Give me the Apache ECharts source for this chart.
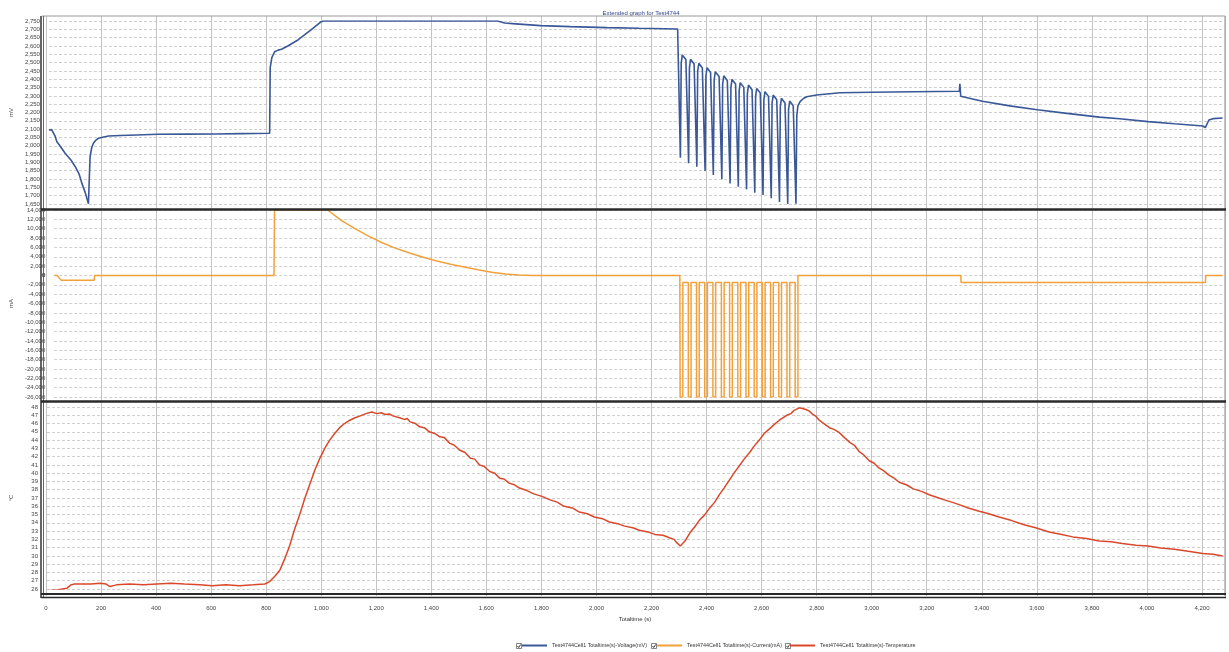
<!DOCTYPE html>
<html>
<head>
<meta charset="utf-8">
<script src="https://cdn.jsdelivr.net/npm/echarts@6/dist/echarts.min.js"></script>
<style>html,body{margin:0;padding:0;background:#fff;}#c{width:1229px;height:652px;}</style>
</head>
<body>
<div id="c"></div>
<script>
const titleText = 'Extended graph for Test4744';
const seriesNames = ['Test4744Cell1 Totaltime(s)-Voltage(mV)', 'Test4744Cell1 Totaltime(s)-Current(mA)', 'Test4744Cell1 Totaltime(s)-Temperature'];
const xName = 'Totaltime (s)';
const yNames = ['mV', 'mA', '°C'];
const xRange = [0, 4280, 200];
const voltRange = [1650, 2750, 50];
const currRange = [-26000, 14000, 2000];
const tempRange = [26, 48, 1];
const currZeroTick = 0;

const voltage = [
[0,2095],[10,2097],[17,2093],[22,2060],[29,2024],[40,2000],[59,1955],[80,1915],[96,1874],[110,1830],[120,1774],[132,1720],[144,1652],
[147,1800],[150,1934],[156,1990],[162,2015],[170,2032],[180,2045],[200,2053],[217,2059],[260,2062],[320,2065],[398,2069],[500,2070],[604,2071],[700,2073],[804,2075],
[806,2470],[812,2530],[822,2565],[835,2575],[847,2580],[870,2600],[907,2636],[950,2690],[992,2746],[1000,2750],[1634,2750],[1660,2738],[1700,2733],[1791,2722],[1900,2716],[2033,2710],[2150,2706],
[2290,2702],[2300,1928],[2303,2496],[2307,2546],[2314,2534],
[2320,2518],[2330,1895],[2333,2470],[2337,2520],[2344,2508],
[2350,2492],[2360,1874],[2363,2446],[2367,2496],[2374,2484],
[2380,2468],[2390,1848],[2393,2419],[2397,2469],[2404,2457],
[2410,2441],[2420,1824],[2423,2395],[2427,2445],[2434,2433],
[2441,2417],[2451,1799],[2454,2371],[2458,2421],[2465,2409],
[2471,2393],[2481,1774],[2484,2349],[2488,2399],[2495,2387],
[2501,2371],[2511,1754],[2514,2329],[2518,2379],[2525,2367],
[2531,2351],[2541,1738],[2544,2315],[2548,2365],[2555,2353],
[2561,2337],[2571,1718],[2574,2295],[2578,2345],[2585,2333],
[2591,2317],[2601,1704],[2604,2275],[2608,2325],[2615,2313],
[2621,2297],[2631,1684],[2634,2255],[2638,2305],[2645,2293],
[2651,2277],[2661,1662],[2664,2235],[2668,2285],[2675,2273],
[2681,2257],[2691,1650],[2694,2219],[2698,2269],[2705,2257],
[2711,2241],[2721,1652],
[2724,2180],[2728,2240],[2736,2265],[2748,2284],[2760,2295],[2796,2305],[2881,2319],[3000,2322],[3150,2325],[3316,2328],[3318,2372],[3321,2298],
[3400,2268],[3500,2240],[3600,2217],[3700,2196],[3826,2172],[3900,2162],[4004,2145],[4100,2132],[4203,2119],[4212,2109],[4218,2110],[4225,2155],[4240,2163],[4275,2167]
];

const current = [
[0,0],[10,0],[25,-1000],[146,-1000],[148,0],[804,0],[806,14000],[1000,14000],
[1050,11800],[1100,10000],[1150,8400],[1200,7000],[1250,5800],[1300,4800],[1350,3900],[1400,3100],[1450,2400],[1500,1800],[1550,1200],[1600,700],[1650,300],[1700,100],[1750,0],
[2289,0],
[2290,-26000],[2300,-26000],[2300,-1500],[2320,-1500],
[2320,-26000],[2330,-26000],[2330,-1500],[2350,-1500],
[2350,-26000],[2360,-26000],[2360,-1500],[2380,-1500],
[2380,-26000],[2390,-26000],[2390,-1500],[2410,-1500],
[2410,-26000],[2420,-26000],[2420,-1500],[2441,-1500],
[2441,-26000],[2451,-26000],[2451,-1500],[2471,-1500],
[2471,-26000],[2481,-26000],[2481,-1500],[2501,-1500],
[2501,-26000],[2511,-26000],[2511,-1500],[2531,-1500],
[2531,-26000],[2541,-26000],[2541,-1500],[2561,-1500],
[2561,-26000],[2571,-26000],[2571,-1500],[2591,-1500],
[2591,-26000],[2601,-26000],[2601,-1500],[2621,-1500],
[2621,-26000],[2631,-26000],[2631,-1500],[2651,-1500],
[2651,-26000],[2661,-26000],[2661,-1500],[2681,-1500],
[2681,-26000],[2691,-26000],[2691,-1500],[2711,-1500],
[2711,-26000],[2721,-26000],[2721,0],
[3317,0],[3318,-1500],[4212,-1500],[4213,0],[4275,0]
];

const temperature = [
[0,25.8],[40,25.9],[73,26.1],[87,26.5],[100,26.6],[160,26.6],[193,26.7],[215,26.6],[229,26.3],[253,26.5],[300,26.6],[350,26.5],[400,26.6],[450,26.7],[500,26.6],[556,26.5],[600,26.4],[650,26.5],[700,26.4],[750,26.5],[792,26.6],
[810,26.9],[830,27.6],[847,28.3],[865,29.7],[883,31.3],[900,33.2],[919,35.0],[937,36.9],[955,38.6],[973,40.3],[992,41.8],[1010,43.0],[1028,44.0],[1046,44.8],[1064,45.5],[1082,46.0],[1101,46.4],[1120,46.7],[1137,46.9],[1160,47.2],[1181,47.4],
[1200,47.2],[1215,47.3],[1230,47.1],[1245,47.15],[1260,46.9],[1282,46.7],[1300,46.5],[1310,46.6],[1320,46.2],[1340,46.0],[1355,45.6],[1372,45.5],[1390,45.0],[1410,44.8],[1428,44.4],[1445,44.3],[1465,43.6],[1480,43.4],[1500,42.8],[1520,42.5],[1540,41.8],[1555,41.7],[1573,41.0],[1590,40.8],[1610,40.2],[1628,40.0],[1646,39.4],[1662,39.3],[1680,38.8],[1700,38.6],[1718,38.2],[1745,37.9],[1770,37.5],[1800,37.2],[1827,36.8],[1855,36.5],[1880,36.0],[1910,35.8],[1936,35.3],[1965,35.1],[1990,34.7],[2020,34.5],[2045,34.1],[2075,33.9],[2100,33.6],[2130,33.4],[2154,33.1],[2185,32.9],[2210,32.6],[2240,32.5],[2263,32.2],[2280,32.0],[2290,31.6],[2303,31.2],
[2320,31.8],[2340,32.9],[2355,33.5],[2372,34.3],[2390,34.9],[2410,35.8],[2428,36.5],[2445,37.4],[2462,38.2],[2480,39.1],[2500,40.1],[2518,40.9],[2535,41.7],[2555,42.5],[2572,43.3],[2590,44.0],[2608,44.8],[2625,45.3],[2645,45.9],[2663,46.4],[2690,47.0],[2705,47.2],[2717,47.6],[2736,47.9],
[2760,47.7],[2772,47.5],[2785,47.1],[2795,46.9],[2808,46.4],[2825,46.0],[2845,45.5],[2862,45.3],[2881,44.9],[2900,44.3],[2920,43.7],[2935,43.4],[2954,42.6],[2970,42.2],[2990,41.5],[3008,41.2],[3026,40.6],[3042,40.3],[3060,39.8],[3080,39.4],[3099,38.9],[3125,38.6],[3150,38.1],[3180,37.8],[3208,37.4],[3235,37.1],[3260,36.8],[3290,36.5],[3317,36.2],[3350,35.8],[3390,35.4],[3425,35.1],[3462,34.7],[3505,34.3],[3550,33.8],[3595,33.4],[3644,32.9],[3690,32.6],[3730,32.3],[3780,32.1],[3826,31.8],[3870,31.7],[3910,31.5],[3960,31.3],[4004,31.2],[4050,30.95],[4100,30.8],[4150,30.55],[4203,30.3],[4240,30.2],[4275,30.0]
];

const colors = ['#3a5898', '#f2a13a', '#d9482b'];
const FONT = 'Liberation Sans';
const gridL = 46, gridR = 5;
const fmt = v => (Math.abs(v) < 1e-9 ? '0' : Number(v).toLocaleString('en-US'));

function dataX(i) {
  return { gridIndex: i, type: 'value', show: false, position: 'bottom', min: xRange[0], max: xRange[1], interval: xRange[2],
    axisLabel: { show: false }, axisLine: { show: false, onZero: false }, axisTick: { show: false }, splitLine: { show: false } };
}
function dataY(i, r, name) {
  return { gridIndex: i, type: 'value', min: r[0], max: r[1], interval: r[2],
    name: name, nameLocation: 'middle', nameGap: 33, nameTextStyle: { fontSize: 6, color: '#444', fontFamily: FONT },
    axisLabel: { fontSize: 6, color: '#444', fontFamily: FONT, margin: 9, formatter: fmt, hideOverlap: false },
    axisLine: { show: false, onZero: false }, axisTick: { show: false },
    splitLine: { show: true, lineStyle: { color: '#cfcfcf', type: [3, 2], width: 1 } } };
}

const legendLefts = [522, 657, 790];
const checkLefts = [516, 651, 785];

const chart = echarts.init(document.getElementById('c'), null, { renderer: 'canvas' });
const frameLines = [
  [[42, 16], [1225, 16], '#9a9a9a', 1],
  [[1225.5, 16], [1225.5, 598], '#b0b0b0', 1],
  [[41, 16], [41, 598], '#333', 1.5],
  [[43.5, 16], [43.5, 598], '#666', 1],
  [[41, 209.5], [1226, 209.5], '#2a2a2a', 2.5],
  [[41, 401.5], [1226, 401.5], '#2a2a2a', 2.5],
  [[41, 594], [1226, 594], '#2a2a2a', 2],
  [[41, 597.5], [1226, 597.5], '#2a2a2a', 1.5]
];
const graphics = frameLines.map(l => ({ type: 'line', silent: true, z: 100,
    shape: { x1: l[0][0], y1: l[0][1], x2: l[1][0], y2: l[1][1] },
    style: { stroke: l[2], lineWidth: l[3] } }));
checkLefts.forEach(x => {
  graphics.push({ type: 'rect', silent: true, shape: { x: x + 0.5, y: 643.5, width: 5, height: 5 },
    style: { fill: '#fff', stroke: '#666', lineWidth: 0.8 } });
  graphics.push({ type: 'polyline', silent: true, shape: { points: [[x + 1.5, 646], [x + 2.7, 647.5], [x + 4.7, 644.5]] },
    style: { fill: null, stroke: '#222', lineWidth: 0.9 } });
});

chart.setOption({
  animation: false,
  backgroundColor: '#ffffff',
  title: { text: titleText, left: 636, top: 5, textAlign: 'center',
    textStyle: { fontSize: 6, fontWeight: 'normal', color: '#2d3f8f', fontFamily: FONT } },
  legend: seriesNames.map((n, i) => ({ left: legendLefts[i], top: 643, padding: 0, itemWidth: 25, itemHeight: 2, icon: 'rect',
    textStyle: { fontSize: 5.4, color: '#333', fontFamily: FONT }, data: [n] })),
  grid: [
    { left: gridL, right: gridR, top: 16, bottom: 56 },
    { left: gridL, right: gridR, top: 21, height: 183 },
    { left: gridL, right: gridR, top: 210, height: 187 },
    { left: gridL, right: gridR, top: 407, height: 182 }
  ],
  xAxis: [
    { gridIndex: 0, type: 'value', min: xRange[0], max: xRange[1], interval: xRange[2],
      name: xName, nameLocation: 'middle', nameGap: 16,
      nameTextStyle: { fontSize: 6, color: '#333', fontFamily: FONT },
      axisLabel: { fontSize: 6, color: '#444', fontFamily: FONT, margin: 9, formatter: fmt, showMaxLabel: false },
      axisLine: { show: false }, axisTick: { show: false },
      splitLine: { show: true, lineStyle: { color: '#c4c4c4', width: 1 } } },
    dataX(1), dataX(2), dataX(3)
  ],
  yAxis: [
    { gridIndex: 0, type: 'value', min: 0, max: 1, show: false },
    dataY(1, voltRange, yNames[0]),
    dataY(2, currRange, yNames[1]),
    dataY(3, tempRange, yNames[2])
  ],
  series: [
    { name: seriesNames[0], type: 'line', xAxisIndex: 1, yAxisIndex: 1, data: voltage, symbol: 'none',
      lineStyle: { color: colors[0], width: 1.6 }, itemStyle: { color: colors[0] } },
    { name: seriesNames[1], type: 'line', xAxisIndex: 2, yAxisIndex: 2, data: current, symbol: 'none',
      lineStyle: { color: colors[1], width: 1.5 }, itemStyle: { color: colors[1] } },
    { name: seriesNames[2], type: 'line', xAxisIndex: 3, yAxisIndex: 3, data: temperature, symbol: 'none',
      lineStyle: { color: colors[2], width: 1.5 }, itemStyle: { color: colors[2] } }
  ],
  graphic: graphics
});

// The zero tick label of the current axis, placed through the axis scale
const zp = chart.convertToPixel({ xAxisIndex: 2, yAxisIndex: 2 }, [xRange[0], currZeroTick]);
if (zp) {
  chart.setOption({ graphic: graphics.concat([{ type: 'text', silent: true, z: 101,
    x: zp[0] - 9, y: zp[1],
    style: { text: fmt(currZeroTick), fontSize: 6, fill: '#444', fontFamily: FONT, align: 'right', verticalAlign: 'middle' } }]) });
}
</script>
</body>
</html>
